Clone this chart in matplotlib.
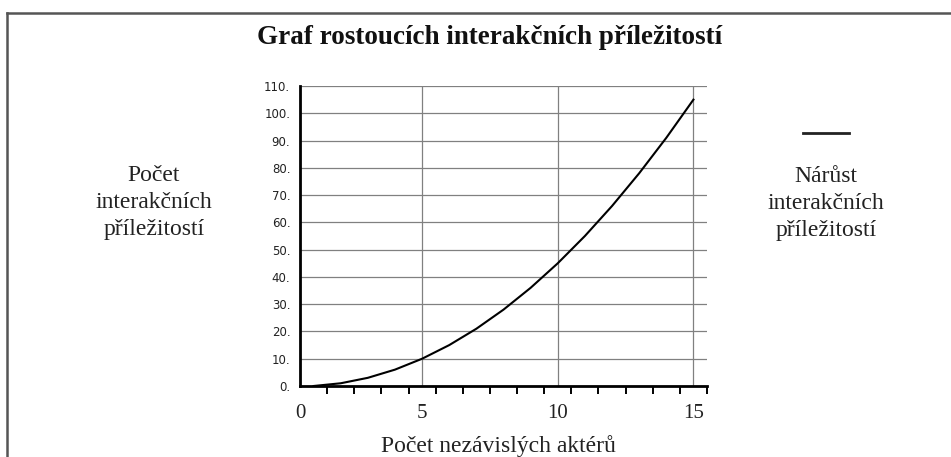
import numpy as np
import matplotlib.pyplot as plt
from matplotlib.lines import Line2D

# počet aktérů (kategorie 1..15) a počet interakčních příležitostí
actors = [1, 2, 3, 4, 5, 6, 7, 8, 9, 10, 11, 12, 13, 14, 15]
opportunities = [0, 1, 3, 6, 10, 15, 21, 28, 36, 45, 55, 66, 78, 91, 105]

y_ticks = [0, 10, 20, 30, 40, 50, 60, 70, 80, 90, 100, 110]
y_tick_labels = [f'{v}.' for v in y_ticks]
x_tick_labels = ['0', '5', '10', '15']

title = 'Graf rostoucích interakčních příležitostí'
y_title = ['Počet', 'interakčních', 'příležitostí']
x_title = 'Počet nezávislých aktérů'
legend_title = ['Nárůst', 'interakčních', 'příležitostí']

W, H = 951, 457
fig = plt.figure(figsize=(W / 100, H / 100), dpi=100)
serif = ['Liberation Serif', 'DejaVu Serif']
sans = ['DejaVu Sans']
txt = '#222222'

def fx(px):
    return px / W

def fy(py):
    return 1 - py / H

ax = fig.add_axes([fx(300), fy(386), fx(707) - fx(300), fy(86) - fy(386)])

# category axis: point i sits in the middle of its slot
xpos = np.array(actors) - 0.5
ax.plot(xpos, opportunities, color='black', lw=1.5, zorder=3)

ax.set_xlim(0, 15)
ax.set_ylim(0, 110)

ax.set_yticks(y_ticks)
ax.set_yticklabels(y_tick_labels, fontfamily=sans, fontsize=8.5, color=txt)
ax.tick_params(axis='y', length=0, pad=7)

ax.set_xticks([0, 4.5, 9.5, 14.5])
ax.set_xticklabels(x_tick_labels, fontfamily=serif, fontsize=15, color=txt)
ax.set_xticks(range(0, 16), minor=True)
ax.tick_params(axis='x', which='major', length=0, pad=13)
ax.tick_params(axis='x', which='minor', length=6, width=1.4, direction='out', color='black')

ax.grid(True, which='major', color='#808080', lw=0.9)
ax.set_axisbelow(True)
for s in ['top', 'right']:
    ax.spines[s].set_visible(False)
for s in ['left', 'bottom']:
    ax.spines[s].set_linewidth(2)
    ax.spines[s].set_zorder(4)

# frame of the chart box
fig.add_artist(Line2D([fx(6.5), fx(6.5)], [fy(13), fy(457)], color='#555555', lw=1.8))
fig.add_artist(Line2D([fx(6.5), fx(951)], [fy(13), fy(13)], color='#555555', lw=1.8))

fig.text(fx(490), fy(44), title, ha='center', va='baseline', fontfamily=serif,
         fontsize=19.5, fontweight='bold', color='#111111')

for i, line in enumerate(y_title):
    fig.text(fx(154), fy(181 + 27 * i), line, ha='center', va='baseline',
             fontfamily=serif, fontsize=17, color=txt)
for i, line in enumerate(legend_title):
    fig.text(fx(826), fy(182 + 27 * i), line, ha='center', va='baseline',
             fontfamily=serif, fontsize=17, color=txt)

fig.text(fx(498), fy(452), x_title, ha='center', va='baseline', fontfamily=serif,
         fontsize=17, color=txt)
fig.add_artist(Line2D([fx(803), fx(849)], [fy(133), fy(133)], color='#222222', lw=2))

fig.savefig('out.png', dpi=100)
